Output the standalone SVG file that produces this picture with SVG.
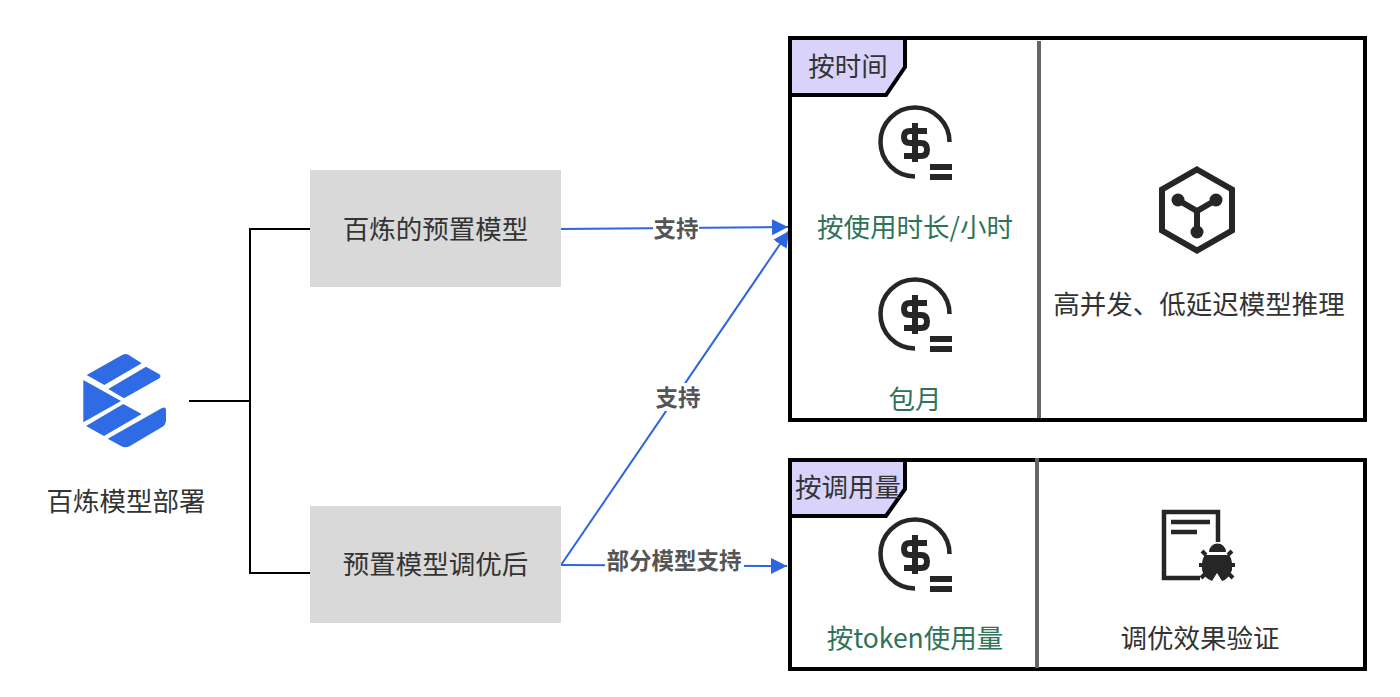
<svg xmlns="http://www.w3.org/2000/svg" width="1400" height="697" viewBox="0 0 1400 697">
<style>
text{font-family:"Noto Sans CJK SC","Liberation Sans",sans-serif;text-anchor:middle;dominant-baseline:central}
.t{font-size:26.500px;fill:#333}
.g{font-size:26.500px;fill:#2f7358}
.e{font-size:22.500px;font-weight:700;fill:#555}
.n{fill:#d9d9d9}
.box{fill:#fff;stroke:#000;stroke-width:4}
.div{stroke:#666;stroke-width:4;fill:none}
.tag{fill:#d9d3fb;stroke:#000;stroke-width:4}
.k{fill:none;stroke:#000;stroke-width:2}
.b{fill:none;stroke:#2d66e0;stroke-width:2}
.ic{fill:none;stroke:#262626;stroke-width:4.500}
.ds{fill:none;stroke:#262626;stroke-width:6}
.lb{fill:#fff}
.logo{fill:#2f6be4}
</style>
<defs>
<marker id="ah" markerUnits="userSpaceOnUse" markerWidth="18" markerHeight="18" refX="16" refY="8" orient="auto"><path d="M0 0L16 8L0 16Z" fill="#2d66e0"/></marker>
<g id="coin">
<path class="ic" d="M949.500 142A34.500 34.500 0 1 0 915 176.500"/>
<path class="ds" d="M927 131H910Q904 131 904 137Q904 143 910 143H921Q927 143 927 149.500Q927 156 921 156H904M915 123V162"/>
<path fill="#262626" d="M930 164H952V170H930ZM930 174H952V180H930Z"/>
</g>
</defs>
<rect width="1400" height="697" fill="#fff"/>
<g id="connectors">
<path class="k" d="M189 401H250M310 229H250V573H310"/>
<path class="b" d="M561 229L788 227" marker-end="url(#ah)"/>
<path class="b" d="M561 565L789 231" marker-end="url(#ah)"/>
<path class="b" d="M561 565L787 566" marker-end="url(#ah)"/>
<rect class="lb" x="653" y="214" width="46" height="28"/>
<text class="e" x="676" y="226.500">支持</text>
<rect class="lb" x="654" y="383" width="48" height="28"/>
<text class="e" x="678" y="395.500">支持</text>
<rect class="lb" x="605" y="546" width="139" height="28"/>
<text class="e" x="674" y="558.500">部分模型支持</text>
</g>
<g id="source">
<g class="logo">
<path d="M86.700 375L123 354.500Q126 353.500 128 354.500L141.700 363.300L104.300 385Z"/>
<path d="M108.300 389L146 366.700L159 374Q162 376 159 378.500L124 398.300Z"/>
<path d="M83.300 380L121 401L83.300 422.300Z"/>
<path d="M86 426L123.300 404L141.700 414L104 436Z"/>
<path d="M107.700 438.700L162 408Q166 406.500 166 410V420Q166 425 161.700 427.300L130 446Q125 448.500 121 446Z"/>
</g>
<text class="t" x="126" y="499">百炼模型部署</text>
</g>
<g id="node-preset"><rect class="n" x="310" y="170" width="251" height="117"/><text class="t" x="435.500" y="227">百炼的预置模型</text></g>
<g id="node-tuned"><rect class="n" x="310" y="506" width="251" height="117"/><text class="t" x="435.500" y="562">预置模型调优后</text></g>
<g id="box-time">
<rect class="box" x="790" y="38" width="575" height="382"/>
<path class="div" d="M1039 41V418"/>
<path class="tag" d="M790 38H905V67L886 95H790Z"/>
<text class="t" x="848" y="64">按时间</text>
<use href="#coin"/>
<text class="g" x="915" y="225">按使用时长/小时</text>
<use href="#coin" y="172"/>
<text class="g" x="915" y="397">包月</text>
<g id="icon-hex">
<path fill="none" stroke="#262626" stroke-width="6" d="M1197 169.500L1232 189.500V230.500L1197 250.500L1162 230.500V189.500Z"/>
<path fill="none" stroke="#262626" stroke-width="6" d="M1178 200L1197 211L1216 200M1197 211V232"/>
<circle cx="1178" cy="200" r="6.500" fill="#262626"/><circle cx="1216" cy="200" r="6.500" fill="#262626"/><circle cx="1197" cy="232" r="6.500" fill="#262626"/>
</g>
<text class="t" x="1199" y="302">高并发、低延迟模型推理</text>
</g>
<g id="box-usage">
<rect class="box" x="790" y="460" width="575" height="209"/>
<path class="div" d="M1037 458V668"/>
<path class="tag" d="M790 460H905V489L886 516H790Z"/>
<text class="t" x="848" y="485">按调用量</text>
<use href="#coin" y="412"/>
<text class="g" x="915" y="636">按token使用量</text>
<g id="icon-doc">
<path fill="none" stroke="#262626" stroke-width="4.500" d="M1218 542V512H1164V578H1200"/>
<path fill="none" stroke="#262626" stroke-width="4.500" d="M1171 522H1210M1171 532H1197"/>
<path fill="#262626" d="M1209 552A8.500 8.500 0 0 1 1226 552Z"/>
<path fill="#262626" d="M1205 555H1229Q1233 560 1232 570Q1229 579 1222 581L1217 573L1212 581Q1204 578 1202 570Q1201 560 1205 555Z"/>
<path fill="none" stroke="#262626" stroke-width="4" d="M1206 555L1202 551M1228 555L1232 551M1203 565H1199M1231 565H1235M1205 574L1201 578M1229 574L1233 578"/>
</g>
<text class="t" x="1200" y="636">调优效果验证</text>
</g>
</svg>
